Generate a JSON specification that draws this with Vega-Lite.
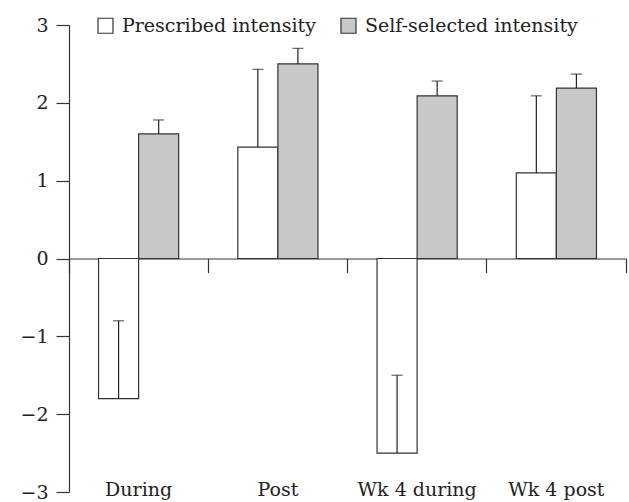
{
  "$schema": "https://vega.github.io/schema/vega-lite/v6.json",
  "width": 557,
  "height": 467,
  "autosize": {"type": "none"},
  "padding": {"left": 69, "top": 25, "right": 3, "bottom": 10},
  "background": "white",
  "config": {
    "view": {"stroke": null},
    "font": "DejaVu Serif",
    "axis": {
      "labelFont": "DejaVu Serif",
      "labelFontSize": 19,
      "labelColor": "#222",
      "domainColor": "#333",
      "tickColor": "#333",
      "domainWidth": 1.2,
      "tickWidth": 1.2,
      "grid": false,
      "title": null
    }
  },
  "data": {
    "values": [
      {"time": "During", "cond": "Prescribed intensity", "mean": -1.8, "err": -0.8},
      {"time": "During", "cond": "Self-selected intensity", "mean": 1.6, "err": 1.78},
      {"time": "Post", "cond": "Prescribed intensity", "mean": 1.43, "err": 2.43},
      {"time": "Post", "cond": "Self-selected intensity", "mean": 2.5, "err": 2.7},
      {"time": "Wk 4 during", "cond": "Prescribed intensity", "mean": -2.5, "err": -1.5},
      {"time": "Wk 4 during", "cond": "Self-selected intensity", "mean": 2.09, "err": 2.28},
      {"time": "Wk 4 post", "cond": "Prescribed intensity", "mean": 1.1, "err": 2.09},
      {"time": "Wk 4 post", "cond": "Self-selected intensity", "mean": 2.19, "err": 2.37}
    ]
  },
  "resolve": {"axis": {"x": "independent"}},
  "layer": [
    {
      "mark": {"type": "bar", "stroke": "#333", "strokeWidth": 1.2},
      "encoding": {
        "x": {
          "field": "time", "type": "nominal",
          "sort": ["During", "Post", "Wk 4 during", "Wk 4 post"],
          "scale": {"paddingInner": 0, "paddingOuter": 0},
          "axis": {"orient": "bottom", "offset": -233.5, "labels": false, "bandPosition": 1, "tickExtra": true, "tickSize": 14, "domain": true, "ticks": true}
        },
        "xOffset": {
          "field": "cond", "type": "nominal",
          "scale": {"paddingInner": 0, "paddingOuter": 0.7375}
        },
        "y": {
          "field": "mean", "type": "quantitative",
          "scale": {"domain": [-3, 3], "nice": false},
          "axis": {"values": [-3, -2, -1, 0, 1, 2, 3], "format": "d", "tickSize": 13, "labelPadding": 8, "title": null}
        },
        "fill": {
          "field": "cond", "type": "nominal",
          "scale": {"domain": ["Prescribed intensity", "Self-selected intensity"], "range": ["white", "#c8c8c8"]},
          "legend": {
            "title": null, "orient": "none", "legendX": 27, "legendY": -9,
            "direction": "horizontal", "symbolType": "square", "symbolSize": 225,
            "symbolStrokeColor": "#333", "symbolStrokeWidth": 1.2,
            "labelFont": "DejaVu Serif", "labelFontSize": 19, "labelColor": "#222", "labelLimit": 0,
            "columnPadding": 22, "labelOffset": 7, "padding": 0
          }
        }
      }
    },
    {
      "mark": {"type": "rule", "color": "#222", "strokeWidth": 1.2},
      "encoding": {
        "x": {
          "field": "time", "type": "nominal",
          "sort": ["During", "Post", "Wk 4 during", "Wk 4 post"],
          "axis": {"orient": "bottom", "offset": -12, "domain": false, "ticks": false, "labelPadding": 0, "labelAngle": 0}
        },
        "xOffset": {"field": "cond", "type": "nominal"},
        "y": {"field": "mean", "type": "quantitative"},
        "y2": {"field": "err"}
      }
    },
    {
      "mark": {"type": "tick", "color": "#222", "size": 11, "thickness": 1.2},
      "encoding": {
        "x": {"field": "time", "type": "nominal", "sort": ["During", "Post", "Wk 4 during", "Wk 4 post"], "axis": null},
        "xOffset": {"field": "cond", "type": "nominal"},
        "y": {"field": "err", "type": "quantitative"}
      }
    }
  ]
}
